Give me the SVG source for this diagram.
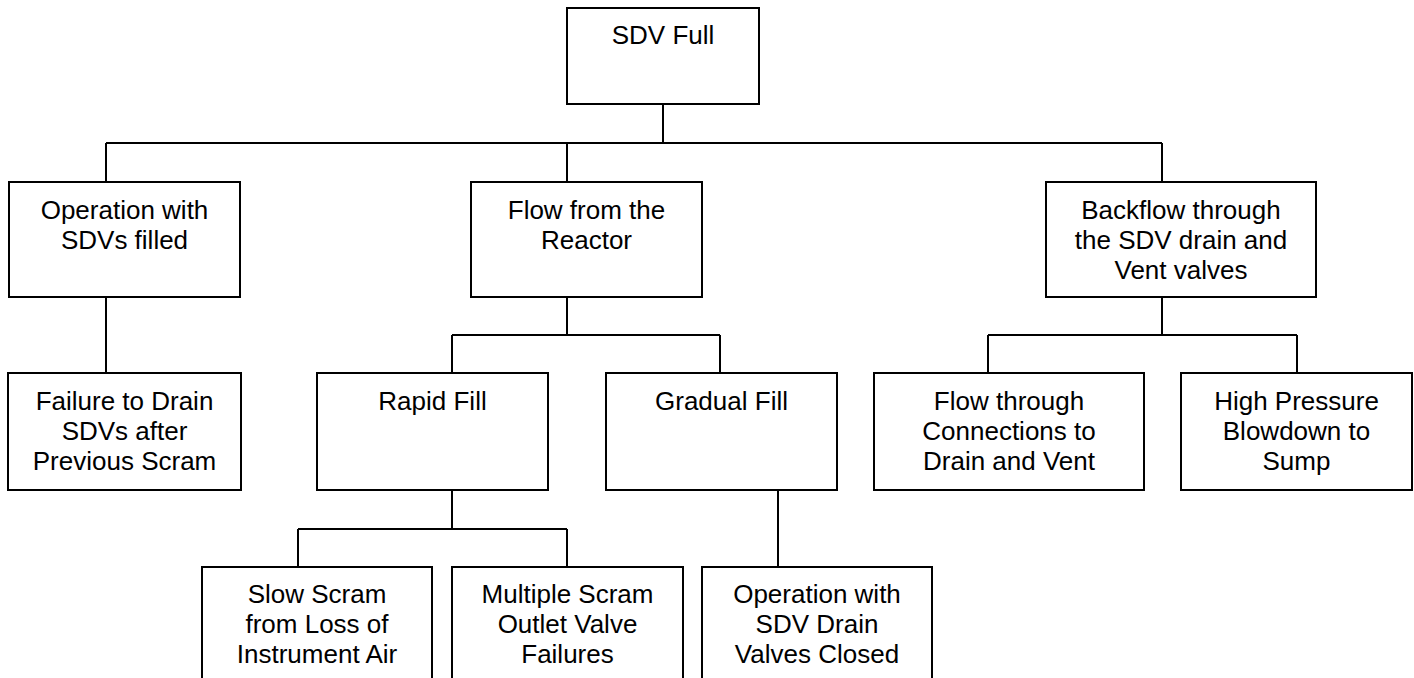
<svg xmlns="http://www.w3.org/2000/svg" width="1414" height="678" viewBox="0 0 1414 678">
  <style>
    .box { fill: #ffffff; stroke: #000000; stroke-width: 2; }
    .wire { fill: none; stroke: #000000; stroke-width: 2; }
    .lbl { font-family: "Liberation Sans", Arial, Helvetica, sans-serif; font-size: 26px; fill: #000000; text-anchor: middle; }
  </style>
  <rect x="0" y="0" width="1414" height="678" fill="#ffffff"/>

  <!-- tree connectors -->
  <g id="connectors">
    <path class="wire" d="M663 104 V143 M106 143 H1162 M106 143 V182 M567 143 V182 M1162 143 V182"/>
    <path class="wire" d="M106 297 V373"/>
    <path class="wire" d="M567 297 V335 M452 335 H720 M452 335 V373 M720 335 V373"/>
    <path class="wire" d="M1162 297 V335 M988 335 H1297 M988 335 V373 M1297 335 V373"/>
    <path class="wire" d="M452 490 V529 M298 529 H567 M298 529 V567 M567 529 V567"/>
    <path class="wire" d="M778 490 V567"/>
  </g>

  <g id="sdv-full">
    <rect class="box" x="567" y="8" width="192" height="96"/>
    <text class="lbl" x="663" y="43.5">SDV Full</text>
  </g>

  <g id="operation-sdvs-filled">
    <rect class="box" x="9" y="182" width="231" height="115"/>
    <text class="lbl" x="124.5" y="218.5">Operation with</text>
    <text class="lbl" x="124.5" y="248.5">SDVs filled</text>
  </g>

  <g id="flow-from-reactor">
    <rect class="box" x="471" y="182" width="231" height="115"/>
    <text class="lbl" x="586.5" y="218.5">Flow from the</text>
    <text class="lbl" x="586.5" y="248.5">Reactor</text>
  </g>

  <g id="backflow">
    <rect class="box" x="1046" y="182" width="270" height="115"/>
    <text class="lbl" x="1181" y="218.5">Backflow through</text>
    <text class="lbl" x="1181" y="248.5">the SDV drain and</text>
    <text class="lbl" x="1181" y="278.5">Vent valves</text>
  </g>

  <g id="failure-to-drain">
    <rect class="box" x="8" y="373" width="233" height="117"/>
    <text class="lbl" x="124.5" y="409.5">Failure to Drain</text>
    <text class="lbl" x="124.5" y="439.5">SDVs after</text>
    <text class="lbl" x="124.5" y="469.5">Previous Scram</text>
  </g>

  <g id="rapid-fill">
    <rect class="box" x="317" y="373" width="231" height="117"/>
    <text class="lbl" x="432.5" y="409.5">Rapid Fill</text>
  </g>

  <g id="gradual-fill">
    <rect class="box" x="606" y="373" width="231" height="117"/>
    <text class="lbl" x="721.5" y="409.5">Gradual Fill</text>
  </g>

  <g id="flow-through-connections">
    <rect class="box" x="874" y="373" width="270" height="117"/>
    <text class="lbl" x="1009" y="409.5">Flow through</text>
    <text class="lbl" x="1009" y="439.5">Connections to</text>
    <text class="lbl" x="1009" y="469.5">Drain and Vent</text>
  </g>

  <g id="high-pressure-blowdown">
    <rect class="box" x="1181" y="373" width="231" height="117"/>
    <text class="lbl" x="1296.5" y="409.5">High Pressure</text>
    <text class="lbl" x="1296.5" y="439.5">Blowdown to</text>
    <text class="lbl" x="1296.5" y="469.5">Sump</text>
  </g>

  <g id="slow-scram">
    <rect class="box" x="202" y="567" width="230" height="130"/>
    <text class="lbl" x="317" y="602.5">Slow Scram</text>
    <text class="lbl" x="317" y="632.5">from Loss of</text>
    <text class="lbl" x="317" y="662.5">Instrument Air</text>
  </g>

  <g id="multiple-scram-outlet">
    <rect class="box" x="452" y="567" width="231" height="130"/>
    <text class="lbl" x="567.5" y="602.5">Multiple Scram</text>
    <text class="lbl" x="567.5" y="632.5">Outlet Valve</text>
    <text class="lbl" x="567.5" y="662.5">Failures</text>
  </g>

  <g id="operation-drain-closed">
    <rect class="box" x="702" y="567" width="230" height="130"/>
    <text class="lbl" x="817" y="602.5">Operation with</text>
    <text class="lbl" x="817" y="632.5">SDV Drain</text>
    <text class="lbl" x="817" y="662.5">Valves Closed</text>
  </g>
</svg>
